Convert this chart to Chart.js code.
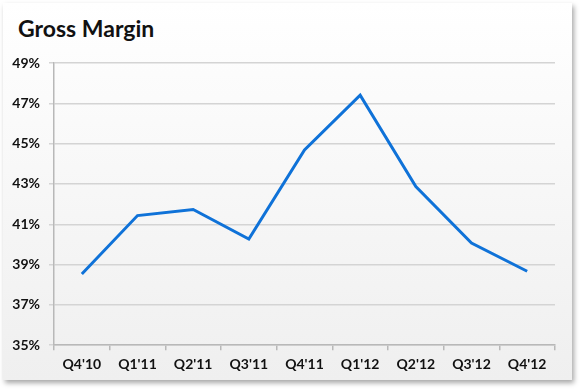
<!DOCTYPE html>
<html>
<head>
<meta charset="utf-8">
<script src="https://cdn.jsdelivr.net/npm/chart.js@4/dist/chart.umd.min.js"></script>
<style>
  html, body { margin: 0; padding: 0; background: #ffffff; }
  #card {
    position: absolute; left: 3px; top: 3px; width: 569px; height: 377px;
    background: linear-gradient(#ffffff, #efefef);
    box-shadow: 2px 3px 5px rgba(0, 0, 0, 0.35);
  }
  #title {
    position: absolute; left: 18px; top: 15px;
    font: bold 23px/26px Lato, "DejaVu Sans", sans-serif;
    color: #111111;
  }
  #wrap { position: absolute; left: 0; top: 0; width: 580px; height: 390px; }
</style>
</head>
<body>
<div id="card"></div>
<div id="title">Gross Margin</div>
<div id="wrap"><canvas id="chart"></canvas></div>
<script>
  // quarterly gross margin
  const quarters = ["Q4'10", "Q1'11", "Q2'11", "Q3'11", "Q4'11", "Q1'12", "Q2'12", "Q3'12", "Q4'12"];
  const grossMargin = [38.53, 41.43, 41.73, 40.27, 44.69, 47.4, 42.87, 40.07, 38.67];
  const yMin = 35;
  const yMax = 49;
  const yStep = 2;

  const FONT = "Lato, 'DejaVu Sans', sans-serif";

  new Chart(document.getElementById("chart"), {
    type: "line",
    data: {
      labels: quarters,
      datasets: [
        {
          label: "Gross Margin",
          data: grossMargin,
          borderColor: "#0f72d8",
          borderWidth: 3,
          pointRadius: 0,
          tension: 0,
          fill: false,
        },
      ],
    },
    options: {
      responsive: true,
      maintainAspectRatio: false,
      animation: false,
      layout: {
        padding: { left: 8, right: 25, top: 63, bottom: 11 },
      },
      plugins: {
        legend: { display: false },
        tooltip: { enabled: false },
        title: { display: false },
      },
      scales: {
        x: {
          offset: true,
          border: { display: true, color: "#b8b8b8", width: 1.5 },
          grid: {
            offset: true,
            drawOnChartArea: false,
            drawTicks: true,
            tickLength: 5,
            color: "#b8b8b8",
            lineWidth: 1.5,
          },
          ticks: {
            color: "#111111",
            padding: 6,
            maxRotation: 0,
            font: { family: FONT, size: 14, weight: "bold" },
          },
        },
        y: {
          min: yMin,
          max: yMax,
          afterFit: (scale) => { scale.width = 46; },
          border: { display: true, color: "#b8b8b8", width: 1.5 },
          grid: {
            color: "#d4d4d4",
            lineWidth: 1.5,
            tickLength: 5,
          },
          ticks: {
            stepSize: yStep,
            color: "#111111",
            padding: 9,
            font: { family: FONT, size: 14, weight: "bold" },
            callback: (value) => `${value}%`,
          },
        },
      },
    },
  });
</script>
</body>
</html>
